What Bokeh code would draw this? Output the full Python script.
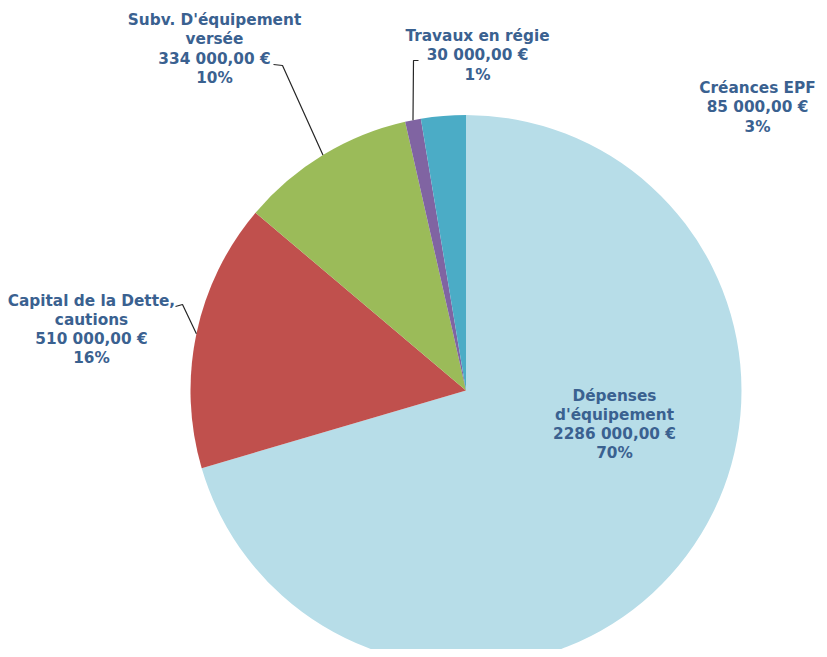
import math
from bokeh.plotting import figure
from bokeh.models import Range1d, ColumnDataSource
from bokeh.embed import file_html
from bokeh.resources import INLINE
from bokeh.core.properties import value

# ---- data ----
categories = ["Dépenses\nd'équipement", "Capital de la Dette,\ncautions",
              "Subv. D'équipement\nversée", "Travaux en régie", "Créances EPF"]
amounts = [2286000, 510000, 334000, 30000, 85000]

# ---- style / layout ----
colors = ["#B7DDE8", "#C0504D", "#9BBB59", "#8064A2", "#4BACC6"]
label_pos = [(614, 424), (91, 329), (214, 48.5), (477, 55), (757, 107)]
leader_start = [None, [(175, 306), (182, 304)], [(273, 64), (282, 65)],
                [(418, 60), (413, 60)], None]
TEXT_COLOR = "#3A6190"

CX, CY, R = 465.5, 390.0, 275.5

W, H = 819, 649
p = figure(width=W, height=H, x_range=Range1d(0, W), y_range=Range1d(-H, 0),
           output_backend="svg", toolbar_location=None, min_border=0)
p.axis.visible = False
p.grid.visible = False
p.outline_line_color = None
p.background_fill_color = "white"
p.border_fill_color = "white"

total = sum(amounts)
cum = 0
starts, ends, mids = [], [], []
for a in amounts:
    c0 = cum / total
    cum += a
    c1 = cum / total
    starts.append(math.pi / 2 - 2 * math.pi * c0)
    ends.append(math.pi / 2 - 2 * math.pi * c1)
    mids.append(math.pi / 2 - 2 * math.pi * (c0 + c1) / 2)

src = ColumnDataSource(dict(start=starts, end=ends, color=colors))
p.wedge(x=CX, y=-CY, radius=R, start_angle="start", end_angle="end",
        direction="clock", fill_color="color", line_color=None, source=src)


def fmt(v):
    return f"{v // 1000} {v % 1000:03d},00 €" if v >= 1000 else f"{v},00 €"


labels = [f"{c}\n{fmt(a)}\n{round(100 * a / total)}%" for c, a in zip(categories, amounts)]

# leader lines
for i, st in enumerate(leader_start):
    if st is None:
        continue
    ex = CX + R * math.cos(mids[i])
    ey = CY - R * math.sin(mids[i])
    xs = [pt[0] for pt in st] + [ex]
    ys = [-pt[1] for pt in st] + [-ey]
    p.line(xs, ys, line_color="#262626", line_width=1.2)

tsrc = ColumnDataSource(dict(x=[lp[0] for lp in label_pos], y=[-lp[1] for lp in label_pos], t=labels))
p.text(x="x", y="y", text="t", source=tsrc, text_align="center", text_baseline="middle",
       text_font=value("DejaVu Sans"), text_font_style="bold", text_font_size="15.3px",
       text_color=TEXT_COLOR, text_line_height=1.07)

open("out.html", "w").write(file_html(p, INLINE))
